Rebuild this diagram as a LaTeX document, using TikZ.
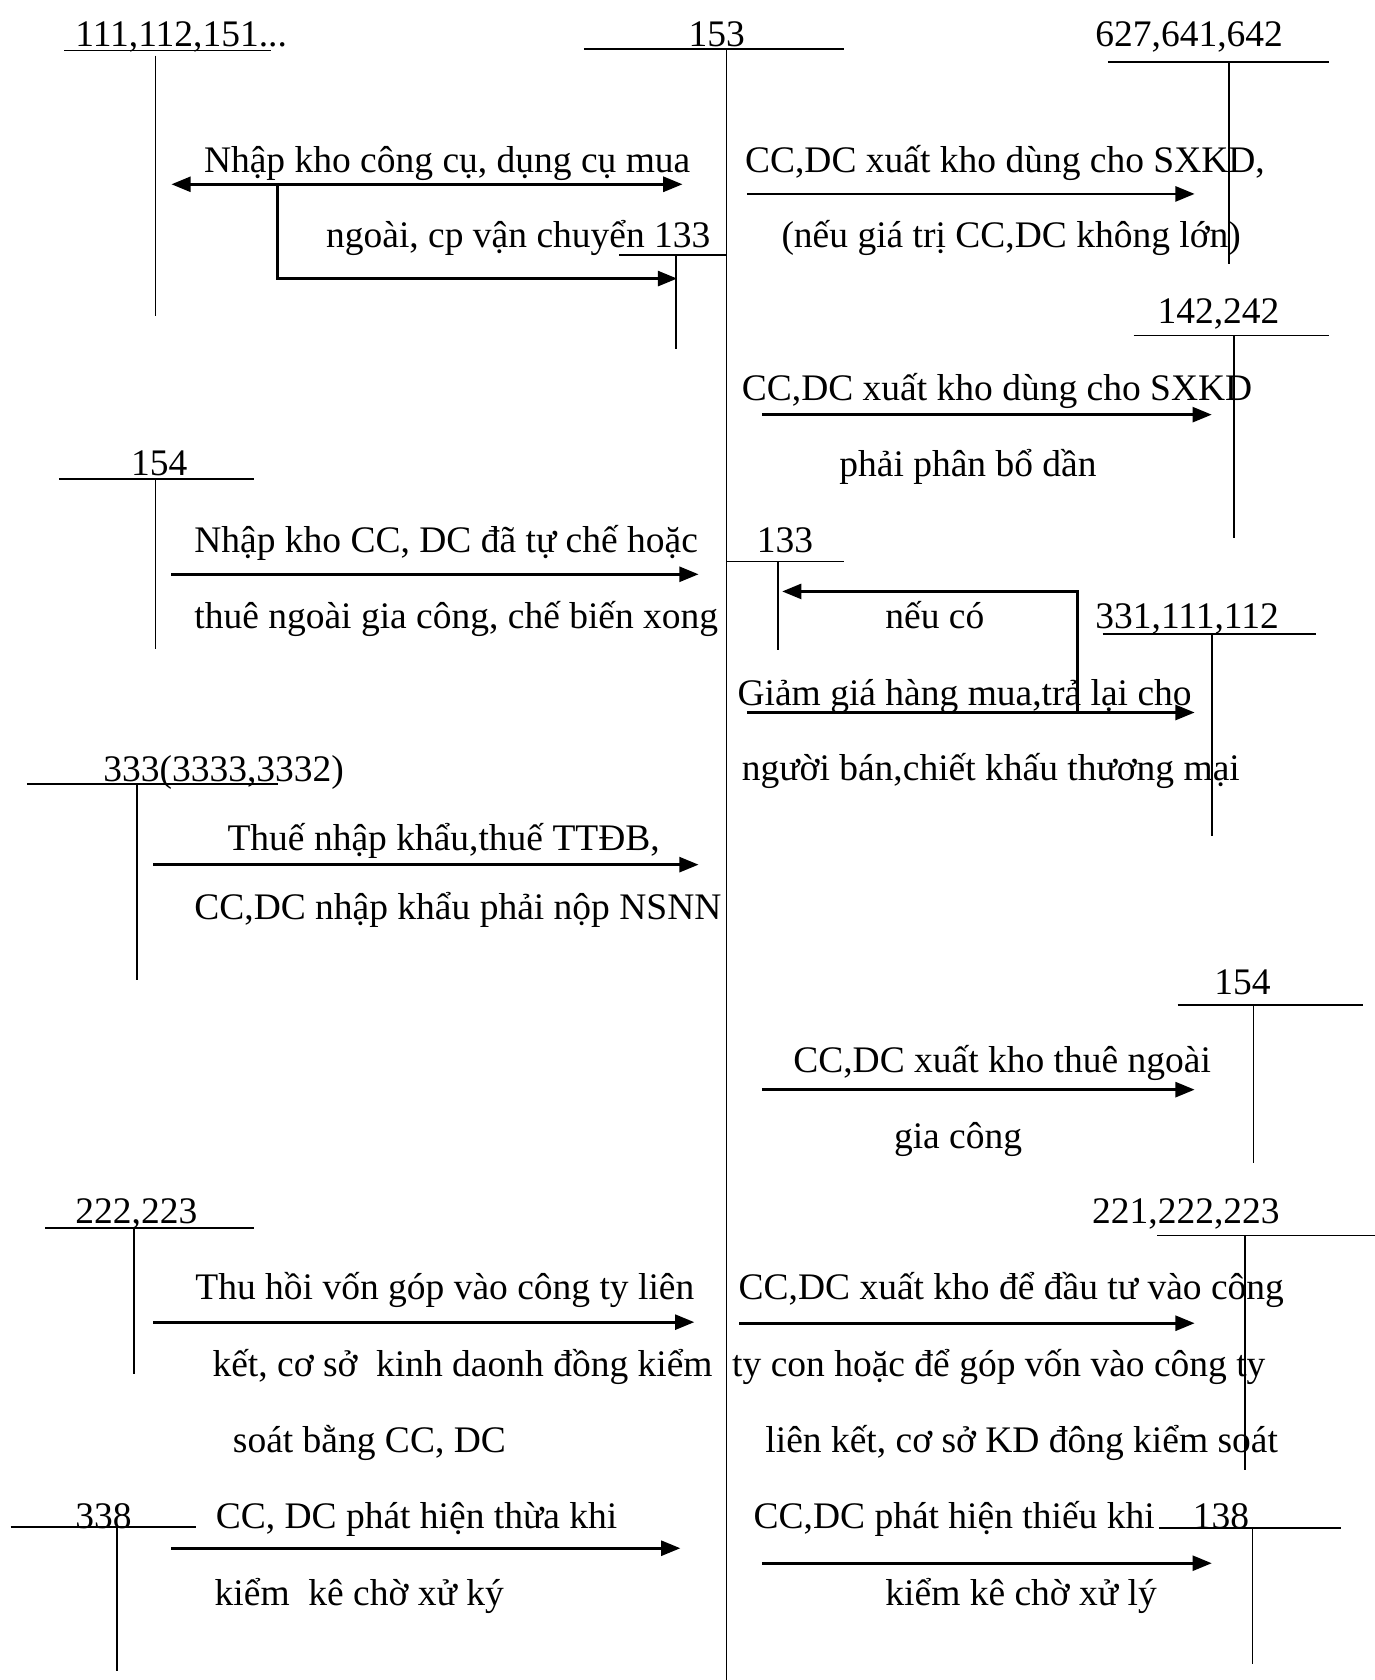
\documentclass[tikz,border=0pt]{standalone}
\usepackage{fontspec}
\setmainfont{Liberation Serif}
\usetikzlibrary{arrows.meta}
\begin{document}
\begin{tikzpicture}[x=0.5pt,y=-0.5pt,
  lbl/.style={inner sep=0pt, anchor=mid west, yshift=-3.5pt, font=\fontsize{17.5}{21}\selectfont},
  clbl/.style={inner sep=0pt, anchor=mid, yshift=-3.5pt, font=\fontsize{17.5}{21}\selectfont},
  tline/.style={line width=0.75pt},
  flow/.style={line width=1.3pt, -{Triangle[length=9pt,width=7pt]}},
  bflow/.style={line width=1.3pt, {Triangle[length=9pt,width=7pt]}-{Triangle[length=9pt,width=7pt]}},
]
\useasboundingbox (0,0) rectangle (1283,1568);

% ---------- account labels ----------
\node[lbl] (a111) at (70,32) {111,112,151...};
\node[clbl] (a153) at (669,32) {153};
\node[lbl] (a627) at (1022,32) {627,641,642};
\node[lbl] (a142) at (1080,290) {142,242};
\node[lbl] (a154l) at (122,432) {154};
\node[lbl] (a133r) at (706,504) {133};
\node[lbl] (a331) at (1022,575) {331,111,112};
\node[lbl] (a333) at (96,718) {333(3333,3332)};
\node[lbl] (a154r) at (1133,917) {154};
\node[lbl] (a222) at (70,1130) {222,223};
\node[lbl] (a221) at (1019,1130) {221,222,223};
\node[lbl] (a338) at (70,1415) {338};
\node[lbl] (a138) at (1113,1415) {138};

% ---------- T-account lines ----------
\draw[tline] (60,47) -- (253,47);  \draw[tline] (145,52) -- (145,295);
\draw[tline] (545,46) -- (788,46); \draw[tline] (678,46) -- (678,1568);
\draw[tline] (1034,58) -- (1240,58); \draw[tline] (1147,58) -- (1147,246);
\draw[tline] (578,238) -- (678,238); \draw[tline] (631,238) -- (631,326);
\draw[tline] (1058,313) -- (1240,313); \draw[tline] (1152,313) -- (1152,502);
\draw[tline] (55,447) -- (237,447); \draw[tline] (145,447) -- (145,606);
\draw[tline] (678,524) -- (788,524); \draw[tline] (726,524) -- (726,607);
\draw[tline] (1029,592) -- (1228,592); \draw[tline] (1131,592) -- (1131,780);
\draw[tline] (25,732) -- (259,732); \draw[tline] (128,732) -- (128,915);
\draw[tline] (1099,938) -- (1272,938); \draw[tline] (1170,938) -- (1170,1085);
\draw[tline] (42,1146) -- (237,1146); \draw[tline] (125,1146) -- (125,1282);
\draw[tline] (1080,1153) -- (1283,1153); \draw[tline] (1162,1153) -- (1162,1372);
\draw[tline] (10,1425) -- (183,1425); \draw[tline] (109,1425) -- (109,1560);
\draw[tline] (1082,1426) -- (1252,1426); \draw[tline] (1169,1426) -- (1169,1553);

% ---------- flows ----------
\coordinate (b1) at (259,172);
\draw[bflow] (160,172) -- (637,172);
\draw[flow] (b1) -- (259,260) -- (632,260);
\node[lbl] (t1a) at (190,149) {Nhập kho công cụ, dụng cụ mua};
\node[lbl] (t1b) at (304,219) {ngoài, cp vận chuyển 133};

\draw[flow] (697,181) -- (1115,181);
\node[lbl] (t2a) at (695,149) {CC,DC xuất kho dùng cho SXKD,};
\node[lbl] (t2b) at (729,219) {(nếu giá trị CC,DC không lớn)};

\draw[flow] (711,387) -- (1131,387);
\node[lbl] (t3a) at (692,362) {CC,DC xuất kho dùng cho SXKD};
\node[lbl] (t3b) at (783,433) {phải phân bổ dần};

\draw[flow] (160,536) -- (652,536);
\node[lbl] (t4a) at (181,504) {Nhập kho CC, DC đã tự chế hoặc};
\node[lbl] (t4b) at (181,575) {thuê ngoài gia công, chế biến xong};

\draw[flow] (697,665) -- (1115,665);
\draw[flow] (1006,665) -- (1006,552) -- (730,552);
\node[lbl] (t5n) at (826,575) {nếu có};
\node[lbl] (t5a) at (688,647) {Giảm giá hàng mua,trả lại cho};
\node[lbl] (t5b) at (692,717) {người bán,chiết khấu thương mại};

\draw[flow] (143,807) -- (652,807);
\node[lbl] (t6a) at (212,782) {Thuế nhập khẩu,thuế TTĐB,};
\node[lbl] (t6b) at (181,847) {CC,DC nhập khẩu phải nộp NSNN};

\draw[flow] (711,1017) -- (1115,1017);
\node[lbl] (t7a) at (740,989) {CC,DC xuất kho thuê ngoài};
\node[lbl] (t7b) at (834,1060) {gia công};

\draw[flow] (143,1234) -- (648,1234);
\node[lbl] (t8a) at (182,1201) {Thu hồi vốn góp vào công ty liên};
\node[lbl] (t8b) at (198,1273) {kết, cơ sở\ \ kinh daonh đồng kiểm};
\node[lbl] (t8c) at (217,1344) {soát bằng CC, DC};

\draw[flow] (690,1235) -- (1115,1235);
\node[lbl] (t9a) at (689,1201) {CC,DC xuất kho để đầu tư vào công};
\node[lbl] (t9b) at (683,1273) {ty con hoặc để góp vốn vào công ty};
\node[lbl] (t9c) at (714,1344) {liên kết, cơ sở KD đông kiểm soát};

\draw[flow] (160,1445) -- (635,1445);
\node[lbl] (t10a) at (201,1415) {CC, DC phát hiện thừa khi};
\node[lbl] (t10b) at (200,1487) {kiểm\ \ kê chờ xử ký};

\draw[flow] (711,1459) -- (1131,1459);
\node[lbl] (t11a) at (703,1415) {CC,DC phát hiện thiếu khi};
\node[lbl] (t11b) at (826,1487) {kiểm kê chờ xử lý};
\end{tikzpicture}
\end{document}
